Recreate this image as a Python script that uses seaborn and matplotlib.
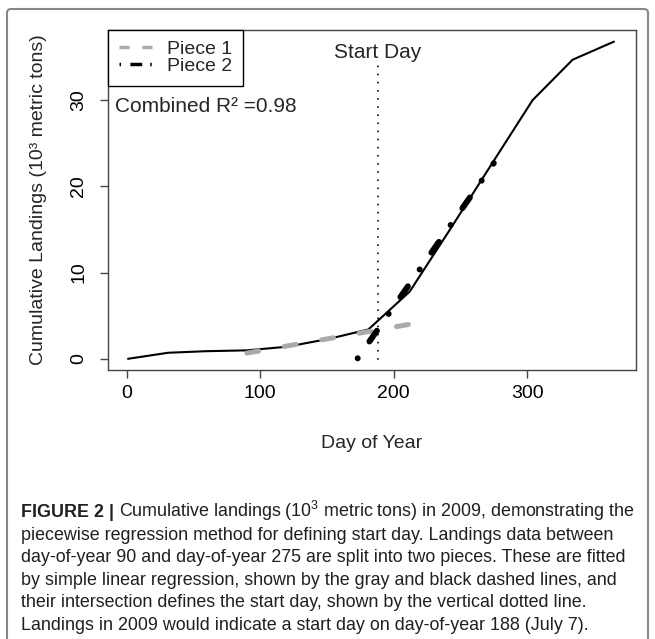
import matplotlib
matplotlib.use("Agg")
import matplotlib.pyplot as plt
import seaborn as sns
from matplotlib.lines import Line2D
from matplotlib.patches import FancyBboxPatch
from matplotlib.transforms import IdentityTransform
from matplotlib import font_manager

# monthly cumulative landings in 2009 (10^3 metric tons)
days = [1, 31, 59, 90, 120, 151, 181, 212, 243, 273, 304, 334, 365]
landings = [0.0, 0.7, 0.88, 0.98, 1.4, 2.3, 3.4, 7.8, 15.2, 22.5, 30.0, 34.7, 36.8]

# the two fitted pieces (end points)
piece1_days = [90, 219]
piece1_vals = [0.66, 4.2]
piece2_days = [173, 275]
piece2_vals = [0.05, 22.7]

start_day = 188
start_top = 34.2
r2_text = "Combined R\u00b2 =0.98"

x_ticks = [0, 100, 200, 300]
y_ticks = [0, 10, 20, 30]

caption_head = "FIGURE 2 |"
caption_lines = [
    r"Cumulative landings (10$^{3}$ metric tons) in 2009, demonstrating the",
    "piecewise regression method for defining start day. Landings data between",
    "day-of-year 90 and day-of-year 275 are split into two pieces. These are fitted",
    "by simple linear regression, shown by the gray and black dashed lines, and",
    "their intersection defines the start day, shown by the vertical dotted line.",
    "Landings in 2009 would indicate a start day on day-of-year 188 (July 7).",
]

sns.set_style("ticks")
plt.rcParams["font.family"] = ["Liberation Sans", "DejaVu Sans"]

W, H = 655, 639
fig = plt.figure(figsize=(W / 100, H / 100), dpi=100)
ax = fig.add_axes([108 / W, 1 - 370 / H, 528 / W, 340 / H])

# data lines
sns.lineplot(x=days, y=landings, ax=ax, color="black", lw=1.5)
sns.lineplot(x=piece1_days, y=piece1_vals, ax=ax, color="#aaaaaa", lw=3.6,
             linestyle=(0, (2.4, 5.2)), dash_capstyle="round")
sns.lineplot(x=piece2_days, y=piece2_vals, ax=ax, color="black", lw=4.3,
             linestyle=(0, (0.02, 3.43, 2.19, 3.43)), dash_capstyle="round")
ax.plot([start_day, start_day], [0, start_top], color="black", lw=1.3,
        linestyle=(0, (0.1, 4.4)), dash_capstyle="round")

ax.text(start_day, 35.5, "Start Day", ha="center", va="center", fontsize=15)
ax.text(0.013, 0.774, r2_text, transform=ax.transAxes, ha="left", va="center",
        fontsize=15)

ax.set_xlim(-14, 381.5)
ax.set_ylim(-1.3, 38.15)
ax.set_xticks(x_ticks)
ax.set_yticks(y_ticks)
ax.tick_params(direction="out", length=5.8, width=1, color="#444444",
               labelsize=14, labelcolor="black")
ax.tick_params(axis="x", pad=5)
ax.tick_params(axis="y", pad=9, labelrotation=90)
for lab in ax.get_yticklabels():
    lab.set_va("center")
for sp in ax.spines.values():
    sp.set_visible(True)
    sp.set_color("#444444")
    sp.set_linewidth(1)

ax.set_xlabel("Day of Year", fontsize=14)
ax.set_ylabel("Cumulative Landings (10\u00b3 metric tons)", fontsize=14)
ax.xaxis.set_label_coords(0.5, -0.19)
ax.yaxis.set_label_coords(-0.115, 0.5)

# legend
handles = [
    Line2D([], [], color="#aaaaaa", lw=2.5, linestyle=(0, (2.9, 3.7))),
    Line2D([], [], color="black", lw=2.5, linestyle=(0, (0.44, 2.7, 3.4, 2.3))),
]
leg = ax.legend(handles, ["Piece 1", "Piece 2"], loc="upper left",
                borderaxespad=0, fancybox=False, edgecolor="black",
                framealpha=1, fontsize=14, handlelength=1.7,
                handletextpad=0.8, labelspacing=-0.05, borderpad=0.55)
leg.get_frame().set_linewidth(1.0)

# frame around the figure panel (bottom edge runs off the image)
fig.patches.append(FancyBboxPatch((7, -10), 641, 640, boxstyle="round,pad=0,rounding_size=4",
                                  transform=IdentityTransform(), fill=False,
                                  edgecolor="#888888", lw=1.5))

# caption
names = {f.name for f in font_manager.fontManager.ttflist}
cap_family = "Liberation Sans Narrow" if "Liberation Sans Narrow" in names else "Liberation Sans"
plt.rcParams["mathtext.fontset"] = "custom"
plt.rcParams["mathtext.rm"] = cap_family
plt.rcParams["mathtext.it"] = cap_family

renderer = fig.canvas.get_renderer()
base = 12
probe1 = fig.text(0, 0, caption_head, fontsize=base, weight="bold", family=cap_family)
probe2 = fig.text(0, 0, caption_lines[0], fontsize=base, family=cap_family)
w = probe1.get_window_extent(renderer).width + probe2.get_window_extent(renderer).width
probe1.remove()
probe2.remove()
size = base * (612 - 0.3 * base * 100 / 72) / w

x0 = 21 / W
baseline0 = 517
spacing = 22.6
cap_color = "#231f20"
head = fig.text(x0, 1 - baseline0 / H, caption_head, fontsize=size, weight="bold",
                family=cap_family, color=cap_color, va="baseline")
head_w = head.get_window_extent(renderer).width
gap = 0.3 * size * 100 / 72
for i, line in enumerate(caption_lines):
    y = 1 - (baseline0 + i * spacing) / H
    x = x0 + (head_w + gap) / W if i == 0 else x0
    fig.text(x, y, line, fontsize=size, family=cap_family, color=cap_color, va="baseline")

fig.savefig("out.png", dpi=100)
